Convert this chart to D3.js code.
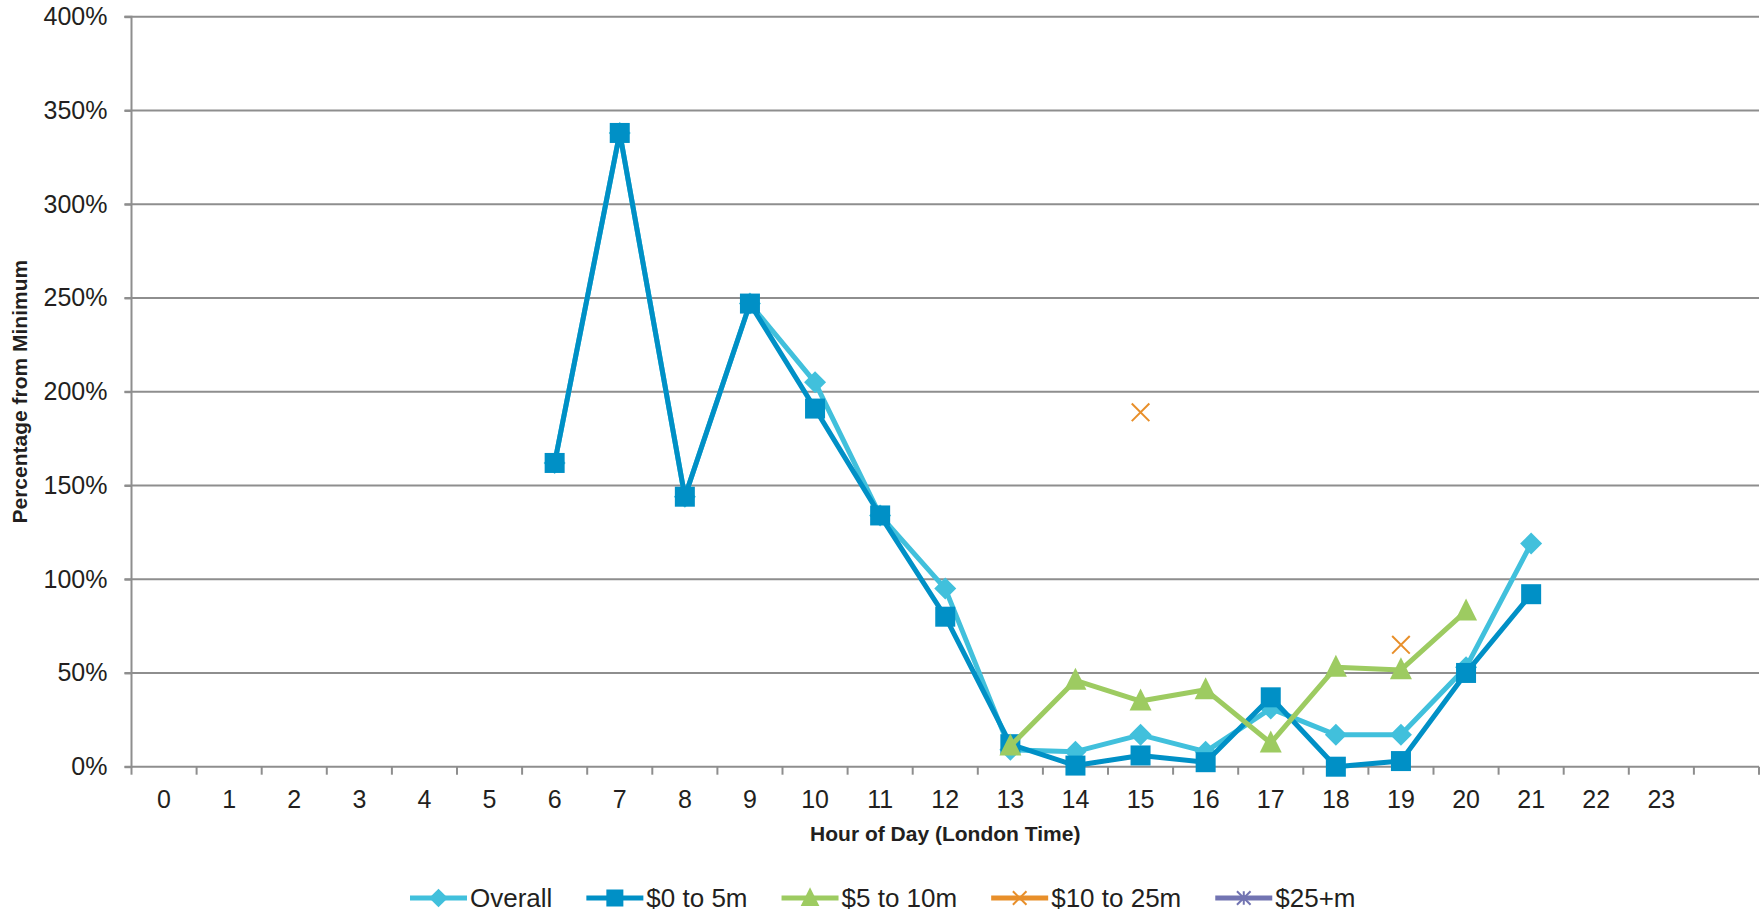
<!DOCTYPE html>
<html>
<head>
<meta charset="utf-8">
<script src="https://cdn.jsdelivr.net/npm/d3@7"></script>
<style>
  html, body { margin: 0; padding: 0; background: #fff; }
  svg { display: block; font-family: "Liberation Sans", Arial, sans-serif; }
</style>
</head>
<body>
<svg id="chart" width="1763" height="914"></svg>
<script>
// ---- data ----
const hours = ["0","1","2","3","4","5","6","7","8","9","10","11","12","13","14","15","16","17","18","19","20","21","22","23",""];
const seriesNames = ["Overall", "$0 to 5m", "$5 to 10m", "$10 to 25m", "$25+m"];
const overall   = [null,null,null,null,null,null,162,338,144,247,205,134,95,9,8,17,8,31,17,17,53,119,null,null];
const band0to5  = [null,null,null,null,null,null,162,338,144,247,191,134,80,12,0.6,6,2.4,37,0,3,50,92,null,null];
const band5to10 = [null,null,null,null,null,null,null,null,null,null,null,null,null,11,46,35,41,12.6,53,51.6,83,null,null,null];
const band10to25= [null,null,null,null,null,null,null,null,null,null,null,null,null,null,null,189,null,null,null,65,null,null,null,null];
const band25plus= [null,null,null,null,null,null,null,null,null,null,null,null,null,null,null,null,null,null,null,null,null,null,null,null];
const yTicks = [0,50,100,150,200,250,300,350,400];
const yTickLabels = ["0%","50%","100%","150%","200%","250%","300%","350%","400%"];

// ---- styles ----
const colors = ["#41C0DC", "#0090C6", "#9DCB61", "#E88F2A", "#7274B2"];
const markers = ["diamond", "square", "triangle", "x", "star"];
const allSeries = [overall, band0to5, band5to10, band10to25, band25plus];

const svg = d3.select("#chart");
const pLeft = 131.5, pRight = 1759, pTop = 16.7, pBottom = 766.7;
const gridColor = "#8E8E8E";

const x = d3.scaleBand().domain(hours.map((h, i) => i)).range([pLeft, pRight]).paddingInner(0).paddingOuter(0);
const y = d3.scaleLinear().domain([0, 400]).range([pBottom, pTop]);

// gridlines
svg.append("g").selectAll("line").data(yTicks.filter(v => v > 0)).join("line")
  .attr("x1", pLeft - 7).attr("x2", pRight)
  .attr("y1", d => y(d)).attr("y2", d => y(d))
  .attr("stroke", gridColor).attr("stroke-width", 2);

// y axis
const yAxis = d3.axisLeft(y).tickValues(yTicks).tickFormat((d, i) => yTickLabels[i]).tickSize(7).tickPadding(17);
const yg = svg.append("g").attr("transform", `translate(${pLeft},0)`).call(yAxis);
yg.select(".domain").attr("stroke", gridColor).attr("stroke-width", 2).attr("d", `M-7,${pTop}H0V${pBottom}H-7`);
yg.selectAll(".tick line").attr("stroke", gridColor).attr("stroke-width", 2);
yg.selectAll(".tick text").attr("fill", "#231F20").style("font-size", "25px").style("font-family", "Liberation Sans, Arial, sans-serif");

// x axis
const xAxis = d3.axisBottom(x).tickFormat(i => hours[i]).tickSize(0).tickPadding(24);
const xg = svg.append("g").attr("transform", `translate(0,${pBottom})`).call(xAxis);
xg.select(".domain").attr("stroke", gridColor).attr("stroke-width", 2).attr("d", `M${pLeft},0H${pRight}`);
xg.selectAll(".tick text").attr("fill", "#231F20").style("font-size", "25px").style("font-family", "Liberation Sans, Arial, sans-serif").attr("dy", "0.71em");
// boundary tick marks
const bounds = d3.range(hours.length + 1).map(i => pLeft + i * x.bandwidth());
xg.append("g").selectAll("line").data(bounds).join("line")
  .attr("x1", d => d).attr("x2", d => d).attr("y1", 0).attr("y2", 8)
  .attr("stroke", gridColor).attr("stroke-width", 2);

// axis titles
svg.append("text").attr("x", (pLeft + pRight) / 2).attr("y", 841)
  .attr("text-anchor", "middle").attr("fill", "#231F20")
  .style("font-size", "21px").style("font-weight", "bold").text("Hour of Day (London Time)");
svg.append("text").attr("transform", `translate(27,${(pTop + pBottom) / 2}) rotate(-90)`)
  .attr("text-anchor", "middle").attr("fill", "#231F20")
  .style("font-size", "21px").style("font-weight", "bold").text("Percentage from Minimum");

// marker drawing
function drawMarker(g, type, color, cx, cy, scale) {
  const s = scale || 1;
  if (type === "square") {
    const h = 10 * s;
    g.append("rect").attr("x", cx - h).attr("y", cy - h).attr("width", 2 * h).attr("height", 2 * h).attr("fill", color);
  } else if (type === "diamond") {
    const h = 11 * s;
    g.append("path").attr("d", `M${cx},${cy - h}L${cx + h},${cy}L${cx},${cy + h}L${cx - h},${cy}Z`).attr("fill", color);
  } else if (type === "triangle") {
    const h = 11 * s;
    g.append("path").attr("d", `M${cx},${cy - h * 1.15}L${cx + h},${cy + h * 0.85}L${cx - h},${cy + h * 0.85}Z`).attr("fill", color);
  } else if (type === "x") {
    const h = 8 * s;
    g.append("path").attr("d", `M${cx - h},${cy - h}L${cx + h},${cy + h}M${cx - h},${cy + h}L${cx + h},${cy - h}`)
      .attr("stroke", color).attr("stroke-width", 2).attr("fill", "none");
  } else if (type === "star") {
    const h = 8 * s;
    g.append("path").attr("d", `M${cx - h},${cy - h}L${cx + h},${cy + h}M${cx - h},${cy + h}L${cx + h},${cy - h}M${cx},${cy - h}L${cx},${cy + h}`)
      .attr("stroke", color).attr("stroke-width", 2).attr("fill", "none");
  }
}

// series
const line = d3.line().defined(d => d.v !== null).x(d => x(d.i) + x.bandwidth() / 2).y(d => y(d.v));
allSeries.forEach((vals, si) => {
  const g = svg.append("g");
  const pts = vals.map((v, i) => ({ i, v }));
  g.append("path").datum(pts).attr("d", line).attr("fill", "none")
    .attr("stroke", colors[si]).attr("stroke-width", 5).attr("stroke-linejoin", "round");
  pts.filter(p => p.v !== null).forEach(p => {
    drawMarker(g, markers[si], colors[si], x(p.i) + x.bandwidth() / 2, y(p.v), markers[si] === "x" ? 1.1 : 1);
  });
});

// legend
const legend = svg.append("g");
let lx = 410;
const ly = 898;
seriesNames.forEach((name, si) => {
  const g = legend.append("g");
  g.append("line").attr("x1", lx).attr("x2", lx + 57).attr("y1", ly).attr("y2", ly)
    .attr("stroke", colors[si]).attr("stroke-width", 5);
  drawMarker(g, markers[si], colors[si], lx + 28.5, ly, 0.85);
  const t = g.append("text").attr("x", lx + 60).attr("y", ly).attr("dy", "0.36em")
    .attr("fill", "#231F20").style("font-size", "26px").text(name);
  const w = t.node().getComputedTextLength();
  lx = lx + 60 + w + 34;
});
</script>
</body>
</html>
